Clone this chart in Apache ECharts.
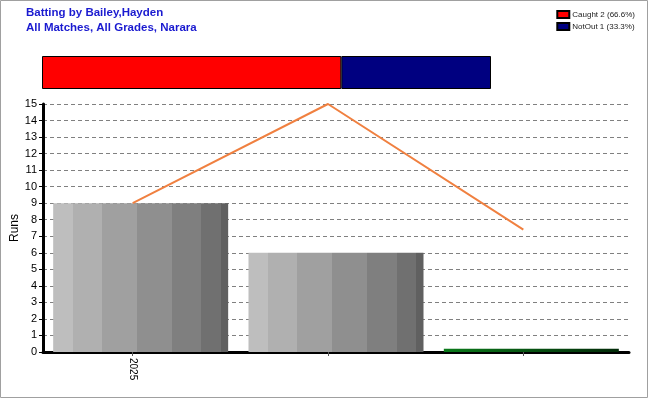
<!DOCTYPE html>
<html><head><meta charset="utf-8">
<script src="https://cdn.jsdelivr.net/npm/echarts@6/dist/echarts.min.js"></script>
<style>html,body{margin:0;padding:0;background:#fff}#c{width:650px;height:400px}</style>
</head><body><div id="c"></div>
<script>
const categories = ['2025', '', ''];
const runsBars = [9, 6, 0.2];
const runsLine = [9, 15, 7.4];
const yTicks = [0, 15, 1];
const dismissalNames = ['Caught 2 (66.6%)', 'NotOut 1 (33.3%)'];
const dismissalCounts = [2, 1];
const dismissalColors = ['#ff0000', '#000080'];

const grayGrad = new echarts.graphic.LinearGradient(0, 0, 1, 0, [
  {offset: 0, color: '#bebebe'}, {offset: 0.114, color: '#bebebe'},
  {offset: 0.114, color: '#b0b0b0'}, {offset: 0.28, color: '#b0b0b0'},
  {offset: 0.28, color: '#a0a0a0'}, {offset: 0.48, color: '#a0a0a0'},
  {offset: 0.48, color: '#8f8f8f'}, {offset: 0.68, color: '#8f8f8f'},
  {offset: 0.68, color: '#7f7f7f'}, {offset: 0.846, color: '#7f7f7f'},
  {offset: 0.846, color: '#707070'}, {offset: 0.96, color: '#707070'},
  {offset: 0.96, color: '#606060'}, {offset: 1, color: '#606060'}
]);
const greenGrad = new echarts.graphic.LinearGradient(0, 0, 1, 0, [
  {offset: 0, color: '#0a7a1a'}, {offset: 1, color: '#022a08'}
]);

const chart = echarts.init(document.getElementById('c'), null, {renderer: 'canvas'});
chart.setOption({
  animation: false,
  title: {
    text: 'Batting by Bailey,Hayden\nAll Matches, All Grades, Narara',
    left: 26, top: 5, padding: 0,
    textStyle: {color: '#1a1ad0', fontSize: 11.5, fontWeight: 'bold', fontFamily: 'Liberation Sans, Arial', lineHeight: 15}
  },
  legend: {
    data: dismissalNames,
    orient: 'vertical', right: 10, top: 5, itemWidth: 12, itemHeight: 7, itemGap: 3,
    icon: 'rect',
    textStyle: {fontSize: 8, color: '#222', fontFamily: 'Liberation Sans, Arial', padding: [0,0,0,-2]},
    selectedMode: false
  },
  graphic: [{
    type: 'rect', shape: {x: 0.5, y: 0.5, width: 647, height: 397},
    style: {fill: 'none', stroke: '#a0a0a0', lineWidth: 1}, z: -1
  }],
  grid: [
    {left: 43, width: 586, top: 104, bottom: 48, outerBoundsMode: 'none', containLabel: false},
    {left: 35, width: 586, top: 104, bottom: 48, outerBoundsMode: 'none', containLabel: false},
    {left: 42, width: 449, top: 56, height: 33, outerBoundsMode: 'none', containLabel: false}
  ],
  xAxis: [
    {gridIndex: 0, type: 'category', data: categories,
     axisLine: {lineStyle: {color: '#000', width: 3}}, axisTick: {show: false}, axisLabel: {show: false}},
    {gridIndex: 1, type: 'category', data: categories,
     axisLine: {show: false}, axisTick: {show: true, alignWithLabel: true, length: 4, lineStyle: {color: '#555'}},
     axisLabel: {rotate: -90, fontSize: 10, color: '#000', fontFamily: 'Liberation Sans, Arial', margin: 6, interval: 0}},
    {gridIndex: 2, type: 'value', min: 0, max: 3, show: false}
  ],
  yAxis: [
    {gridIndex: 0, type: 'value', min: yTicks[0], max: yTicks[1], interval: yTicks[2],
     name: 'Runs', nameLocation: 'middle', nameGap: 22, nameMoveOverlap: false,
     nameTextStyle: {fontSize: 12, color: '#000', fontFamily: 'Liberation Sans, Arial'},
     axisLine: {show: true, lineStyle: {color: '#000', width: 3}},
     axisTick: {show: true, length: 4, lineStyle: {color: '#000'}},
     axisLabel: {fontSize: 11, color: '#000', fontFamily: 'Liberation Sans, Arial', margin: 6},
     splitLine: {show: true, lineStyle: {color: '#808080', type: [4, 3], width: 1}}},
    {gridIndex: 1, type: 'value', min: yTicks[0], max: yTicks[1], show: false},
    {gridIndex: 2, type: 'category', data: ['d'], show: false}
  ],
  series: [
    {type: 'bar', xAxisIndex: 0, yAxisIndex: 0, barWidth: 175,
     data: runsBars.map((v, i) => ({value: v, itemStyle: {color: i === 2 ? greenGrad : grayGrad}})),
     z: 2},
    {type: 'line', xAxisIndex: 1, yAxisIndex: 1, data: runsLine, showSymbol: false, symbol: 'none',
     lineStyle: {color: '#f08040', width: 2}, itemStyle: {color: '#f08040'}, z: 3},
    ...dismissalNames.map((n, i) => ({
      type: 'bar', name: n, xAxisIndex: 2, yAxisIndex: 2, stack: 'd', barWidth: 33,
      data: [dismissalCounts[i]],
      itemStyle: {color: dismissalColors[i], borderColor: '#000', borderWidth: 1}
    }))
  ]
});
</script></body></html>
